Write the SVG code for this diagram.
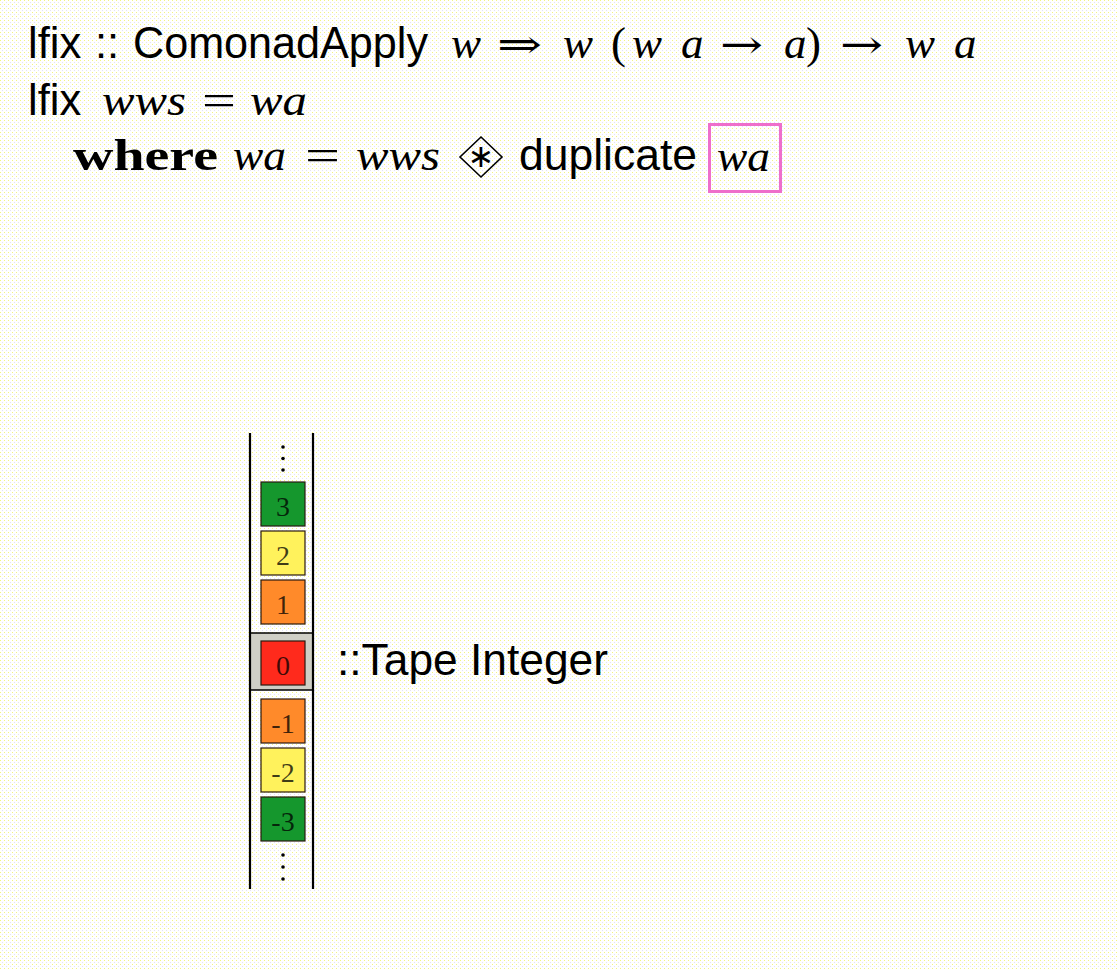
<svg xmlns="http://www.w3.org/2000/svg" width="1118" height="970" viewBox="0 0 1118 970">
<defs>
<pattern id="bgdots" width="4" height="4" patternUnits="userSpaceOnUse">
<rect width="4" height="4" fill="#ffffff"/>
<rect x="0" y="0" width="1" height="1" fill="#f4f480"/>
<rect x="2" y="2" width="1" height="1" fill="#e2e2f6"/>
</pattern>
</defs>
<style>
.sans{font-family:"Liberation Sans",Arial,sans-serif;font-size:43.5px;fill:#000}
.mi{font-family:"Liberation Serif","Times New Roman",serif;font-style:italic;font-size:45px;fill:#000}
.rm{font-family:"DejaVu Serif",serif;font-size:40px;fill:#000}
.pr{font-family:"Liberation Serif","Times New Roman",serif;font-size:45px;fill:#000}
.bf{font-family:"Liberation Serif","Times New Roman",serif;font-weight:bold;font-size:45px;fill:#000}
.cell{stroke:#2a1a10;stroke-width:1.2}
.num{font-family:"Liberation Serif","Times New Roman",serif;font-size:28px;fill:#000;fill-opacity:0.75;text-anchor:middle}
.rail{stroke:#000;stroke-width:2.2}
.dot{fill:#000}
</style>
<rect width="1118" height="970" fill="url(#bgdots)"/>

<g id="line1">
<text class="sans" x="28" y="58">lfix</text>
<text class="sans" x="95" y="58">::</text>
<text class="sans" x="133" y="58" textLength="295" lengthAdjust="spacingAndGlyphs">ComonadApply</text>
<text class="mi" x="451" y="58">w</text>
<text class="rm" x="497" y="58" textLength="45" lengthAdjust="spacingAndGlyphs">⇒</text>
<text class="mi" x="563" y="58">w</text>
<text class="pr" x="611" y="58">(</text>
<text class="mi" x="632" y="58">w</text>
<text class="mi" x="681" y="58">a</text>
<text class="rm" x="720" y="58" textLength="43" lengthAdjust="spacingAndGlyphs">→</text>
<text class="mi" x="784" y="58">a</text>
<text class="pr" x="806" y="58">)</text>
<text class="rm" x="840" y="58" textLength="43" lengthAdjust="spacingAndGlyphs">→</text>
<text class="mi" x="905" y="58">w</text>
<text class="mi" x="954" y="58">a</text>
</g>

<g id="line2">
<text class="sans" x="28" y="115">lfix</text>
<text class="mi" x="102" y="115" textLength="84" lengthAdjust="spacingAndGlyphs">wws</text>
<text class="pr" x="202" y="115" textLength="34" lengthAdjust="spacingAndGlyphs">=</text>
<text class="mi" x="250" y="115" textLength="57" lengthAdjust="spacingAndGlyphs">wa</text>
</g>

<g id="line3">
<text class="bf" x="73" y="170" textLength="145" lengthAdjust="spacingAndGlyphs">where</text>
<text class="mi" x="233" y="170" textLength="53" lengthAdjust="spacingAndGlyphs">wa</text>
<text class="pr" x="305" y="170" textLength="35" lengthAdjust="spacingAndGlyphs">=</text>
<text class="mi" x="356" y="170" textLength="84" lengthAdjust="spacingAndGlyphs">wws</text>
<g id="ap-op">
<polygon points="481,137 502,157 481,177 460,157" fill="none" stroke="#000" stroke-width="1.6"/>
<text x="481" y="167" font-family="DejaVu Sans,sans-serif" font-size="32" text-anchor="middle" fill="#000">∗</text>
</g>
<text class="sans" x="519" y="170" textLength="178" lengthAdjust="spacingAndGlyphs">duplicate</text>
<g id="focus-wa">
<rect x="709.5" y="124.5" width="71" height="67" fill="none" stroke="#ee6fcb" stroke-width="3"/>
<text class="mi" x="717" y="171" textLength="53" lengthAdjust="spacingAndGlyphs">wa</text>
</g>
</g>

<g id="tape">
<rect x="251" y="633" width="62" height="57" fill="#cfcfc6"/>
<line class="rail" x1="250" y1="433" x2="250" y2="889"/>
<line class="rail" x1="313" y1="433" x2="313" y2="889"/>
<line x1="250" y1="633" x2="313" y2="633" stroke="#000" stroke-width="1.5"/>
<line x1="250" y1="690" x2="313" y2="690" stroke="#000" stroke-width="1.5"/>
<circle class="dot" cx="283" cy="447" r="1.8"/>
<circle class="dot" cx="283" cy="458.5" r="1.8"/>
<circle class="dot" cx="283" cy="470" r="1.8"/>
<circle class="dot" cx="283" cy="855" r="1.8"/>
<circle class="dot" cx="283" cy="867" r="1.8"/>
<circle class="dot" cx="283" cy="879" r="1.8"/>
<g id="cell-3"><rect class="cell" x="261" y="482" width="44" height="44" fill="#15972d"/><text class="num" x="283" y="516">3</text></g>
<g id="cell-2"><rect class="cell" x="261" y="531" width="44" height="44" fill="#fff25c"/><text class="num" x="283" y="565">2</text></g>
<g id="cell-1"><rect class="cell" x="261" y="580" width="44" height="44" fill="#ff8a2a"/><text class="num" x="283" y="614">1</text></g>
<g id="cell-0"><rect class="cell" x="261" y="641" width="44" height="44" fill="#ff2a1c"/><text class="num" x="283" y="675">0</text></g>
<g id="cell-m1"><rect class="cell" x="261" y="699" width="44" height="44" fill="#ff8a2a"/><text class="num" x="283" y="733">-1</text></g>
<g id="cell-m2"><rect class="cell" x="261" y="748" width="44" height="44" fill="#fff25c"/><text class="num" x="283" y="782">-2</text></g>
<g id="cell-m3"><rect class="cell" x="261" y="797" width="44" height="44" fill="#15972d"/><text class="num" x="283" y="831">-3</text></g>
</g>

<g id="tape-label">
<text class="sans" x="337" y="675" textLength="271" lengthAdjust="spacingAndGlyphs">::Tape Integer</text>
</g>

<g id="connectors"/>
</svg>
